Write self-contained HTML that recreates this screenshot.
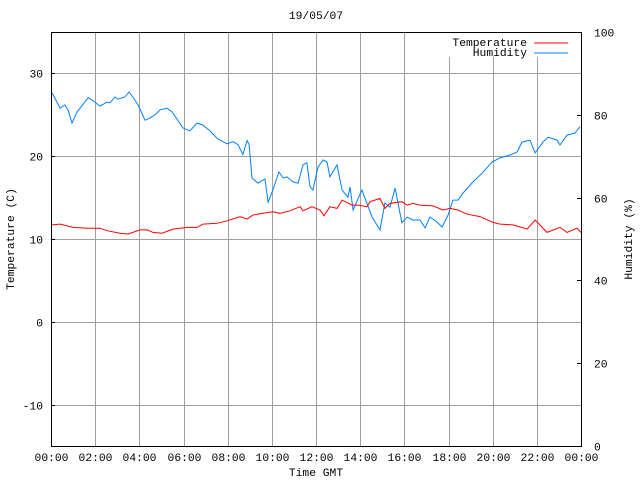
<!DOCTYPE html>
<html><head><meta charset="utf-8"><style>
html,body{margin:0;padding:0;background:#fff}
svg text{font-family:"Liberation Mono","DejaVu Sans Mono",monospace;font-size:11.3px;fill:#000}
</style></head><body>
<svg id="chart" width="640" height="480" viewBox="0 0 640 480" xmlns="http://www.w3.org/2000/svg">
<rect width="640" height="480" fill="#fff"/>
<g id="grid"></g>
<g id="axes"></g>
<g id="series"></g>
<text x="316" y="19" text-anchor="middle">19/05/07</text>
<text x="316" y="476" text-anchor="middle">Time GMT</text>
<text transform="translate(14,239) rotate(-90)" text-anchor="middle">Temperature (C)</text>
<text transform="translate(632,239) rotate(-90)" text-anchor="middle">Humidity (%)</text>
<g>
<rect x="446" y="33" width="132" height="24" fill="#fff"/>
<text x="527" y="46" text-anchor="end">Temperature</text>
<line x1="534" y1="43" x2="568" y2="43" stroke="#ff0000" stroke-width="1"/>
<text x="527" y="56" text-anchor="end">Humidity</text>
<line x1="534" y1="53" x2="568" y2="53" stroke="#0080ff" stroke-width="1"/>
</g>
</svg>
<script>
const xTickLabels=["00:00","02:00","04:00","06:00","08:00","10:00","12:00","14:00","16:00","18:00","20:00","22:00","00:00"];
const leftTicks=[-10,0,10,20,30];
const rightTicks=[0,20,40,60,80,100];
const tempHours=[0.05,0.41,1.00,1.63,2.22,2.54,3.12,3.49,4.03,4.35,4.62,5.03,5.52,6.16,6.61,6.88,7.52,7.97,8.56,8.88,9.15,9.60,10.05,10.37,10.82,11.28,11.41,11.82,12.18,12.36,12.63,12.95,13.18,13.63,13.90,14.31,14.45,14.90,15.12,15.35,15.89,16.12,16.39,16.71,17.30,17.75,18.07,18.43,18.84,19.43,20.02,20.33,20.92,21.56,21.92,22.46,23.05,23.37,23.82,24.00];
const tempValues=[11.7,11.8,11.4,11.3,11.3,11.0,10.7,10.6,11.1,11.1,10.8,10.7,11.2,11.4,11.4,11.8,11.9,12.2,12.7,12.4,12.9,13.1,13.3,13.1,13.4,13.9,13.4,13.9,13.5,12.8,13.9,13.7,14.7,14.1,14.1,13.9,14.5,14.9,13.7,14.3,14.5,14.1,14.3,14.1,14.0,13.5,13.7,13.5,13.0,12.7,12.0,11.8,11.7,11.2,12.3,10.8,11.4,10.8,11.3,10.8];
const humHours=[0.05,0.41,0.63,0.77,0.95,1.18,1.68,1.99,2.22,2.54,2.67,2.90,3.03,3.35,3.53,3.71,3.94,4.26,4.48,4.71,4.94,5.25,5.48,5.98,6.29,6.61,6.88,7.20,7.52,7.97,8.24,8.47,8.69,8.88,8.97,9.10,9.37,9.69,9.83,10.05,10.32,10.51,10.69,10.96,11.19,11.41,11.59,11.73,11.86,12.09,12.32,12.50,12.63,12.95,13.18,13.45,13.54,13.68,14.08,14.54,14.90,15.12,15.35,15.58,15.89,16.12,16.39,16.71,16.94,17.16,17.48,17.71,17.98,18.20,18.43,18.66,19.11,19.52,19.97,20.33,20.79,21.10,21.33,21.69,21.92,22.28,22.51,22.91,23.05,23.37,23.73,23.95];
const humValues=[85.3,81.6,82.4,81.2,78.0,80.7,84.1,83.1,82.1,83.1,82.9,84.3,83.8,84.3,85.5,84.3,82.4,78.7,79.2,80.0,81.2,81.6,80.7,76.8,76.1,78.0,77.5,76.1,74.3,73.0,73.5,72.8,70.4,73.8,72.8,64.7,63.5,64.5,58.9,61.8,66.2,64.7,65.0,63.8,63.5,67.9,68.4,62.6,61.8,67.4,69.1,68.6,65.0,67.9,61.8,60.1,62.6,57.0,61.8,55.3,52.2,58.7,57.7,62.3,53.9,55.3,54.6,54.6,52.7,55.3,54.1,52.9,55.8,59.4,59.4,61.1,63.8,65.9,68.6,69.6,70.3,71.0,73.4,73.9,70.8,73.4,74.6,73.9,72.7,75.1,75.6,77.1];

const NS="http://www.w3.org/2000/svg";
const L=51,R=581,T=32,B=446;
const xS=h=>L+(R-L)*h/24;
const yT=v=>B-(B-T)*(v+15)/50;
const yH=v=>B-(B-T)*v/100;
function mk(tag,attrs,parent){const e=document.createElementNS(NS,tag);for(const k in attrs)e.setAttribute(k,attrs[k]);parent.appendChild(e);return e;}
const grid=document.getElementById('grid'),axes=document.getElementById('axes'),series=document.getElementById('series'),svg=document.getElementById('chart');
xTickLabels.forEach((lab,i)=>{const x=Math.round(xS(i*2))+0.5;
 if(i>0&&i<xTickLabels.length-1){const g=mk('line',{x1:x,y1:T,x2:x,y2:B,stroke:'#a0a0a0'},grid);
 
 }
 const t=mk('text',{x:x,y:461,'text-anchor':'middle'},svg);t.textContent=lab;
 
 
});
leftTicks.forEach(v=>{const y=Math.round(yT(v))+0.5;
 const g=mk('line',{x1:L,y1:y,x2:R,y2:y,stroke:'#a0a0a0'},grid);
 
 
 mk('line',{x1:L,y1:y,x2:L+4,y2:y,stroke:'#000'},axes);
 const t=mk('text',{x:43,y:y+4,'text-anchor':'end'},svg);t.textContent=v;
 
 
});
rightTicks.forEach(v=>{const y=Math.round(yH(v))+0.5;
 mk('line',{x1:R-4,y1:y,x2:R,y2:y,stroke:'#000'},axes);
 const t=mk('text',{x:594,y:y+4,'text-anchor':'start'},svg);t.textContent=v;
 
 
});
const fr=mk('rect',{x:L+0.5,y:T+0.5,width:R-L,height:B-T,fill:'none',stroke:'#000'},axes);


const hp=mk('polyline',{points:humHours.map((h,i)=>xS(h).toFixed(1)+','+yH(humValues[i]).toFixed(1)).join(' '),fill:'none',stroke:'#0080ff','stroke-width':1},series);


const tp=mk('polyline',{points:tempHours.map((h,i)=>xS(h).toFixed(1)+','+yT(tempValues[i]).toFixed(1)).join(' '),fill:'none',stroke:'#ff0000','stroke-width':1},series);


</script>
</body></html>
